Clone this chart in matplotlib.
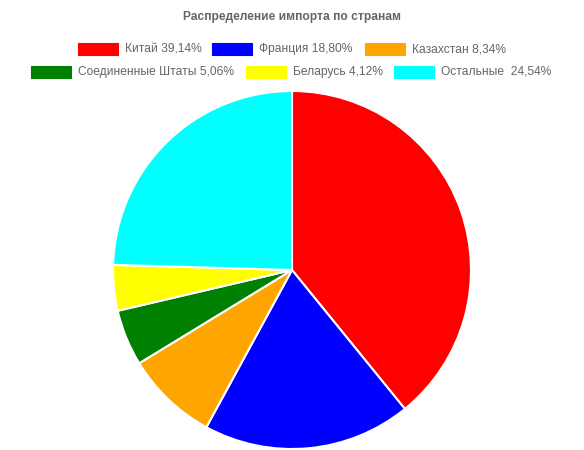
import matplotlib
matplotlib.use("Agg")
import matplotlib.pyplot as plt
from matplotlib.patches import Rectangle

countries = ["Китай", "Франция", "Казахстан", "Соединенные Штаты", "Беларусь", "Остальные"]
values = [39.14, 18.80, 8.34, 5.06, 4.12, 24.54]
labels = ["Китай 39,14%", "Франция 18,80%", "Казахстан 8,34%",
          "Соединенные Штаты 5,06%", "Беларусь 4,12%", "Остальные  24,54%"]
colors = ["#FF0000", "#0000FF", "#FFA500", "#008000", "#FFFF00", "#00FFFF"]
title = "Распределение импорта по странам"

W, H = 584, 450
fig = plt.figure(figsize=(W / 100, H / 100), dpi=100)
plt.rcParams["font.family"] = ["Liberation Sans", "DejaVu Sans"]

cx, cy, r = 292, 270, 179
ax = fig.add_axes([(cx - r) / W, (H - cy - r) / H, 2 * r / W, 2 * r / H])
ax.pie(values, colors=colors, startangle=90, counterclock=False, radius=1,
       wedgeprops=dict(edgecolor="white", linewidth=1.5))
ax.set_xlim(-1, 1)
ax.set_ylim(-1, 1)
ax.set_aspect("equal")
ax.axis("off")

fig.text(cx / W, 1 - 17 / H, title, ha="center", va="center",
         fontsize=8.64, fontweight="bold", color="#666666")

# legend layout (pixel positions of boxes)
rows = [(49, [(78, 0), (212, 1), (365, 2)]), (72, [(31, 3), (246, 4), (394, 5)])]
for yc, items in rows:
    for x0, i in items:
        fig.patches.append(Rectangle((x0 / W, 1 - (yc + 6) / H), 40 / W, 12 / H,
                                     transform=fig.transFigure, facecolor=colors[i],
                                     edgecolor=colors[i], linewidth=0.8))
        fig.text((x0 + 47) / W, 1 - yc / H, labels[i], ha="left", va="center",
                 fontsize=8.64, color="#666666")

fig.savefig("out.png", dpi=100)
